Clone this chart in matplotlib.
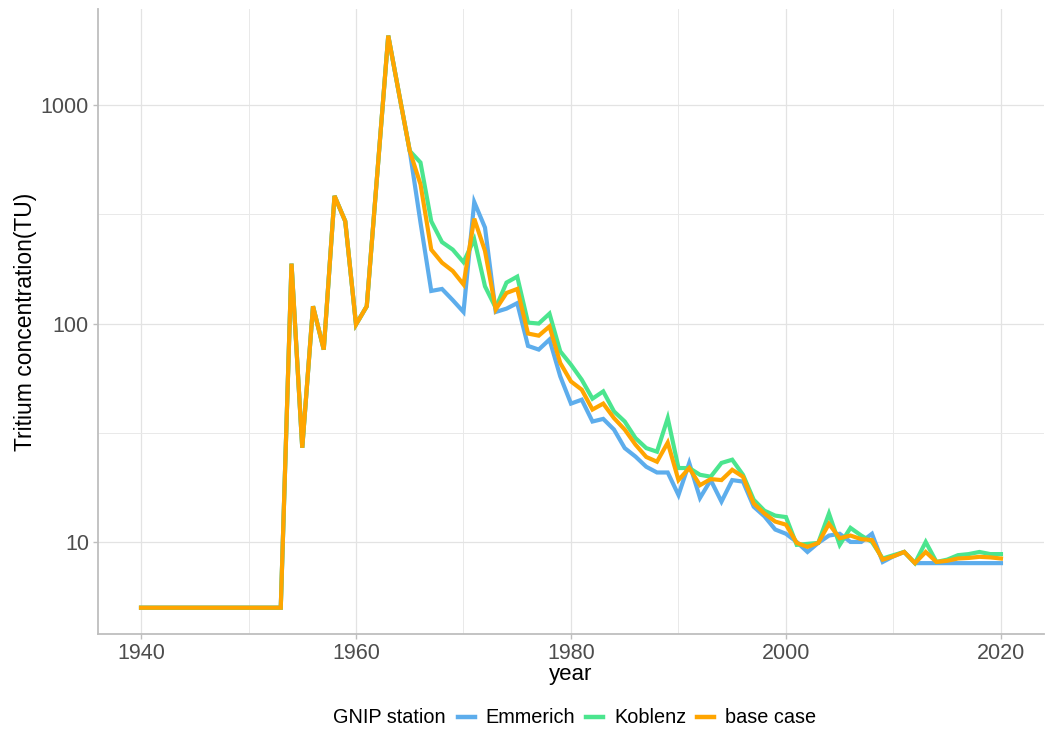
"""
Tritium concentration in precipitation, GNIP stations vs. base case.
"""

import numpy as np
import matplotlib.pyplot as plt
from matplotlib.lines import Line2D
from matplotlib.ticker import FixedLocator, NullFormatter

years = list(range(1940, 2021))

# 1940-1953 pre-bomb level, identical for all series
pre_bomb = [5] * 14

# 1954-1965, identical for all series
bomb_peak = [188, 27, 120, 76, 384, 294, 99, 120, 500, 2080, 1130, 617]

# 1966-2020
emmerich_tail = [290, 141, 144, 128, 113, 360, 275, 113,
                 117, 124, 79, 76, 84.5, 57.3, 43, 44.8, 35.6, 36.6,
                 32.7, 26.9, 24.6, 22.1, 20.8, 20.8, 16.4, 23.0, 15.9, 19.2,
                 15.3, 19.2, 18.9, 14.5, 13.1, 11.4, 10.9, 10.0, 9.0, 9.9,
                 10.7, 10.9, 10.0, 10.0, 10.9, 8.1, 8.6, 9.0, 8.0, 8.0,
                 8.0, 8.0, 8.0, 8.0, 8.0, 8.0, 8.0]
koblenz_tail = [546, 294, 236, 218, 191, 243, 148, 118,
                154, 164, 101, 100, 111, 74.6, 64.8, 55.3, 45.3, 48.9,
                39.6, 35.6, 29.9, 26.9, 25.9, 36.9, 21.8, 21.8, 20.3, 19.9,
                23.0, 23.8, 20.3, 15.6, 13.9, 13.2, 13.0, 9.7, 9.8, 9.9,
                13.5, 9.7, 11.6, 10.7, 10.0, 8.4, 8.7, 9.0, 8.0, 10.0,
                8.1, 8.3, 8.7, 8.8, 9.0, 8.8, 8.8]
base_tail = [434, 218, 190, 174, 151, 302, 215, 116,
             138, 144, 90, 88, 97, 66, 54.3, 49.8, 40.4, 43,
             36.9, 32.7, 27.9, 24.5, 23.3, 28.5, 19.2, 21.8, 18.2, 19.4,
             19.2, 21.4, 19.9, 15.0, 13.5, 12.4, 12.0, 9.9, 9.5, 9.9,
             12.1, 10.4, 10.7, 10.3, 10.2, 8.3, 8.6, 9.0, 8.0, 9.0,
             8.1, 8.2, 8.4, 8.45, 8.55, 8.5, 8.4]

series_names = ["Emmerich", "Koblenz", "base case"]
series_values = [pre_bomb + bomb_peak + emmerich_tail,
                 pre_bomb + bomb_peak + koblenz_tail,
                 pre_bomb + bomb_peak + base_tail]
series_colors = ["#5DADEC", "#4BE58E", "#FFA500"]

x_ticks = [1940, 1960, 1980, 2000, 2020]
y_ticks = [10, 100, 1000]

plt.rcParams["font.family"] = ["Liberation Sans", "DejaVu Sans"]

fig = plt.figure(figsize=(10.45, 7.31), dpi=100)
ax = fig.add_axes([0.0938, 0.1327, 0.9052, 0.855])

for name, values, color in zip(series_names, series_values, series_colors):
    ax.plot(years, values, color=color, lw=3.0, solid_joinstyle="miter",
            label=name)

ax.set_yscale("log")
ax.set_xlim(1936, 2024)
ax.set_ylim(3.79, 2755)

ax.xaxis.set_major_locator(FixedLocator(x_ticks))
ax.xaxis.set_minor_locator(FixedLocator([1950, 1970, 1990, 2010]))
ax.yaxis.set_major_locator(FixedLocator(y_ticks))
ax.yaxis.set_minor_locator(FixedLocator([10 ** 0.5, 10 ** 1.5, 10 ** 2.5]))
ax.set_yticklabels([str(t) for t in y_ticks])
ax.yaxis.set_minor_formatter(NullFormatter())

ax.grid(which="major", color="#E3E3E3", lw=0.9)
ax.grid(which="minor", color="#E9E9E9", lw=0.7)
ax.set_axisbelow(True)

for side in ["top", "right"]:
    ax.spines[side].set_visible(False)
for side in ["left", "bottom"]:
    ax.spines[side].set_color("#BEBEBE")
    ax.spines[side].set_linewidth(1.3)

ax.tick_params(which="major", length=3.5, width=1.0, color="#BEBEBE",
               labelsize=15.5, labelcolor="#4D4D4D", pad=3)
ax.tick_params(which="minor", length=0)

ax.set_xlabel("year", fontsize=16, color="black", labelpad=0)
ax.set_ylabel("Tritium concentration(TU)", fontsize=16.5, color="black",
              labelpad=3)

handles = [Line2D([], [], color=c, lw=3.2) for c in series_colors]
fig.text(0.3187, 0.0178, "GNIP station", fontsize=14.3, va="center",
         ha="left")
fig.legend(handles, series_names, ncol=3, loc="center left",
           bbox_to_anchor=(0.4383, 0.0178), frameon=False, fontsize=14.3,
           handlelength=0.85, handletextpad=0.55, columnspacing=0.55,
           borderpad=0, borderaxespad=0)

fig.savefig("out.png", dpi=100)
